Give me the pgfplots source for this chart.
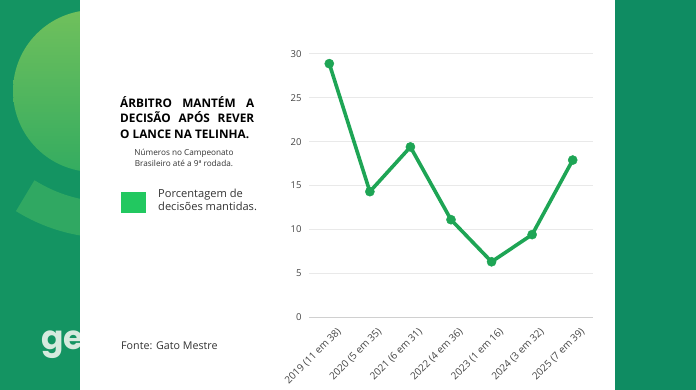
\documentclass[border=0pt]{standalone}
\usepackage{pgfplots}
\pgfplotsset{compat=1.18}
\usepackage{fontspec}
\setmainfont{Open Sans}
\newfontfamily\logofont{Poppins}
\definecolor{bgG}{RGB}{15,140,98}
\definecolor{leftG}{RGB}{20,148,98}
\definecolor{circTop}{RGB}{112,192,92}
\definecolor{circBot}{RGB}{52,172,96}
\definecolor{bandG}{RGB}{48,168,98}
\definecolor{gridc}{RGB}{233,233,233}
\definecolor{zeroc}{RGB}{208,208,208}
\definecolor{lineG}{RGB}{30,165,85}
\definecolor{legG}{RGB}{34,200,96}
\definecolor{txt}{RGB}{51,51,51}
\definecolor{tick}{RGB}{68,68,68}
\definecolor{logoc}{RGB}{214,234,222}
\begin{document}
\begin{tikzpicture}
\useasboundingbox (0,0) rectangle (696pt,-390pt);
% background
\fill[bgG] (0,0) rectangle (696pt,-390pt);
\fill[leftG] (0,0) rectangle (80pt,-390pt);
\begin{scope}
\clip (0,0) rectangle (80pt,-390pt);
\shade[top color=circTop, bottom color=circBot] (94pt,-91pt) circle (81pt);
\draw[bandG, line width=36pt] (110pt,-60pt) ++(238:160pt) arc (238:300:160pt);
\end{scope}
\node[anchor=base west, inner sep=0, text=logoc, font=\logofont\fontsize{33}{33}\selectfont\bfseries] at (41pt,-349pt) {ge};
% white panel
\fill[white] (80pt,0) rectangle (615pt,-390pt);
% title and texts
\node[anchor=north west, inner sep=0, text width=134pt, align=justify, font=\fontsize{11.8}{15.5}\selectfont\bfseries] at (120pt,-96pt)
  {ÁRBITRO MANTÉM A\linebreak DECISÃO APÓS REVER\linebreak O LANCE NA TELINHA.};
\node[anchor=north, inner sep=0, align=center, text=txt, font=\fontsize{8.2}{11}\selectfont] at (184pt,-149pt)
  {Números no Campeonato\\Brasileiro até a 9ª rodada.};
\fill[legG] (121pt,-192pt) rectangle (146pt,-213pt);
\node[anchor=north west, inner sep=0, align=left, text=txt, font=\fontsize{11.1}{12.8}\selectfont] at (158pt,-189pt)
  {Porcentagem de\\decisões mantidas.};
\node[anchor=base west, inner sep=0, text=txt, font=\fontsize{10.7}{12.5}\selectfont] at (121pt,-349pt)
  {Fonte: Gato Mestre};
% chart
\begin{axis}[
  at={(309pt,-317pt)}, anchor=south west,
  scale only axis, width=284pt, height=263pt,
  xmin=-0.5, xmax=6.5, ymin=0, ymax=30,
  xtick={0,...,6},
  xticklabels={2019 (11 em 38),2020 (5 em 35),2021 (6 em 31),2022 (4 em 36),2023 (1 em 16),2024 (3 em 32),2025 (7 em 39)},
  ytick={5,10,...,30},
  extra y ticks={0},
  extra y tick style={grid style={zeroc, line width=1pt}},
  ymajorgrids, grid style={gridc, line width=1pt},
  axis line style={draw=none},
  major tick length=0pt,
  /pgf/number format/assume math mode=true,
  y tick label style={font=\fontsize{9.5}{11}\selectfont, text=tick, xshift=-4pt},
  x tick label style={font=\fontsize{10}{11}\selectfont, text=tick, rotate=45, anchor=north east, inner sep=1pt, xshift=-1pt, yshift=-11pt},
  clip=false,
]
\addplot[lineG, line width=3.6pt, line join=round, mark=*, mark size=4.6pt, mark options={solid, fill=lineG, draw=lineG, line width=0.4pt}]
  coordinates {(0,28.9) (1,14.3) (2,19.4) (3,11.1) (4,6.3) (5,9.4) (6,17.9)};
\end{axis}
\end{tikzpicture}
\end{document}
